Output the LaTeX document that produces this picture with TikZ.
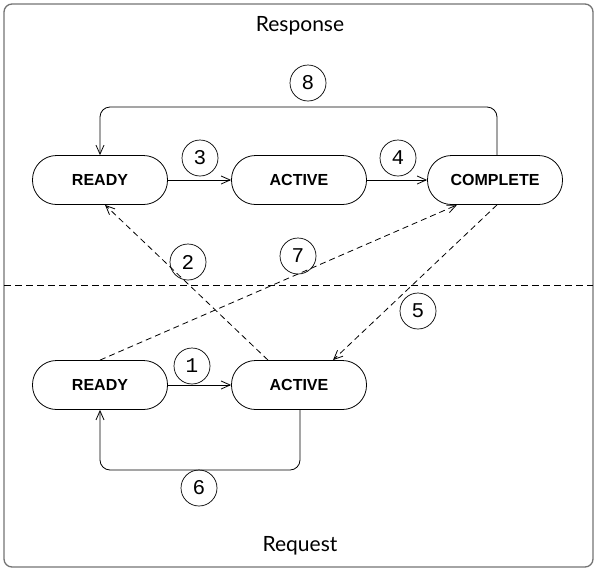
\documentclass[tikz,border=0pt]{standalone}
\usepackage{fontspec}
\setmainfont{Liberation Sans}
\newfontfamily\titlefont{Lato}
\newfontfamily\numfont{Liberation Mono}
\usetikzlibrary{arrows.meta}
\begin{document}
\begin{tikzpicture}[x=1pt,y=-1pt,
  state/.style={draw, line width=0.8pt, rectangle, rounded corners=24pt, minimum width=135pt, minimum height=49pt, inner sep=0pt, font=\fontsize{16}{18}\selectfont\bfseries},
  num/.style={draw, circle, line width=0.7pt, minimum size=36pt, inner sep=0pt, font=\numfont\fontsize{21}{22}\selectfont},
  title/.style={font=\titlefont\fontsize{21}{24}\selectfont},
  conn/.style={line width=0.8pt, -{Straight Barb[length=9pt,width=8pt]}},
  dconn/.style={conn, dash pattern=on 6pt off 4pt}]
\useasboundingbox (0,0) rectangle (597,571);
\draw[draw=black!55, line width=1.3pt, rounded corners=8pt] (4,4) rectangle (593,567);
\node[title] (resp) at (300,26) {Response};
\node[title] (req) at (300,546) {Request};
\coordinate (dl) at (4,285);
\coordinate (dr) at (593,285);
\draw[line width=0.8pt, dash pattern=on 7pt off 4pt] (dl) -- (dr);

\node[state] (tready) at (100,180) {READY};
\node[state] (tactive) at (299,180) {ACTIVE};
\node[state] (tcomplete) at (495,180) {COMPLETE};
\node[state] (bready) at (100,385) {READY};
\node[state] (bactive) at (299,385) {ACTIVE};

\draw[conn] (tready) -- (tactive);
\draw[conn] (tactive) -- (tcomplete);
\draw[conn] (bready) -- (bactive);
\draw[conn, rounded corners=10pt] (tcomplete.north -| 497,0) |- (300,107) -| (tready.north);
\draw[conn, rounded corners=10pt] (bactive.south -| 300,0) |- (200,470) -| (bready.south);
\draw[dconn] (bactive.north -| 268,0) -- (tready.south -| 105,0);
\draw[dconn] (bready.north) -- (tcomplete.south -| 457,0);
\draw[dconn] (tcomplete.south -| 497,0) -- (bactive.north -| 333,0);

\node[num] (n1) at (192,366) {1};
\node[num] (n2) at (188,262) {2};
\node[num] (n3) at (200,158) {3};
\node[num] (n4) at (398,158) {4};
\node[num] (n5) at (418,311) {5};
\node[num] (n6) at (199,488) {6};
\node[num] (n7) at (298,256) {7};
\node[num] (n8) at (308,83) {8};
\end{tikzpicture}
\end{document}
